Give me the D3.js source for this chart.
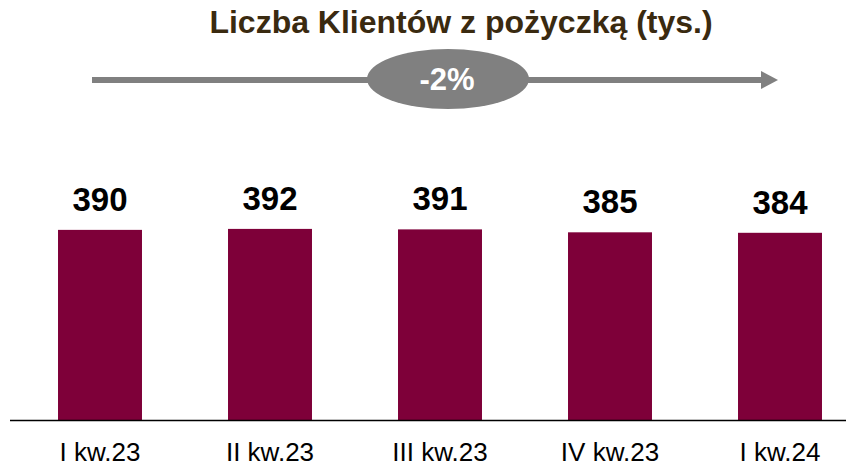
<!DOCTYPE html>
<html>
<head>
<meta charset="utf-8">
<script src="https://cdn.jsdelivr.net/npm/d3@7"></script>
<style>
  html, body { margin: 0; padding: 0; background: #fff; }
  #chart { width: 846px; height: 466px; }
  text { font-family: "Liberation Sans", Arial, sans-serif; }
</style>
</head>
<body>
<div id="chart"></div>
<script>
// Chart data
const quarters = ['I kw.23', 'II kw.23', 'III kw.23', 'IV kw.23', 'I kw.24'];
const clients = [390, 392, 391, 385, 384];
const changeLabel = '-2%';
const chartTitle = 'Liczba Klientów z pożyczką (tys.)';

function createVisualization(width, height) {
    d3.select('#chart').selectAll('*').remove();

    const data = quarters.map((q, i) => ({ quarter: q, value: clients[i] }));

    const svg = d3.select('#chart')
        .append('svg')
        .attr('width', width)
        .attr('height', height);

    // Scales
    const xScale = d3.scaleBand()
        .domain(quarters)
        .range([15, 865])
        .paddingInner(0.506)
        .paddingOuter(0.253);

    const yScale = d3.scaleLinear()
        .domain([0, 400])
        .range([420, 225]);

    // Title
    svg.append('text')
        .attr('x', 461)
        .attr('y', 33)
        .attr('text-anchor', 'middle')
        .style('font-size', '32px')
        .style('font-weight', 'bold')
        .style('fill', '#3a2a10')
        .text(chartTitle);

    // Trend arrow with the change bubble
    const arrowY = 80;
    svg.append('line')
        .attr('x1', 92)
        .attr('y1', arrowY)
        .attr('x2', 763)
        .attr('y2', arrowY)
        .style('stroke', '#808080')
        .style('stroke-width', 6);

    svg.append('path')
        .attr('d', `M761,${arrowY - 9}L778,${arrowY}L761,${arrowY + 9}Z`)
        .style('fill', '#808080');

    svg.append('ellipse')
        .attr('cx', 448)
        .attr('cy', 79)
        .attr('rx', 81)
        .attr('ry', 30)
        .style('fill', '#808080');

    svg.append('text')
        .attr('x', 447)
        .attr('y', 90)
        .attr('text-anchor', 'middle')
        .style('font-size', '31px')
        .style('font-weight', 'bold')
        .style('fill', '#fff')
        .text(changeLabel);

    // Bars
    svg.selectAll('.bar')
        .data(data)
        .join('rect')
        .attr('class', 'bar')
        .attr('x', d => xScale(d.quarter))
        .attr('y', d => yScale(d.value))
        .attr('width', xScale.bandwidth())
        .attr('height', d => yScale(0) - yScale(d.value))
        .style('fill', '#7e0039');

    // Value labels
    svg.selectAll('.value-label')
        .data(data)
        .join('text')
        .attr('class', 'value-label')
        .attr('x', d => xScale(d.quarter) + xScale.bandwidth() / 2)
        .attr('y', d => yScale(d.value) - 19)
        .attr('text-anchor', 'middle')
        .style('font-size', '33px')
        .style('font-weight', 'bold')
        .style('fill', '#000')
        .text(d => d.value);

    // Baseline
    svg.append('line')
        .attr('x1', 10)
        .attr('y1', yScale(0) + 0.5)
        .attr('x2', 846)
        .attr('y2', yScale(0) + 0.5)
        .style('stroke', '#000')
        .style('stroke-width', 1.5);

    // Category axis labels
    const xAxis = d3.axisBottom(xScale).tickSize(0).tickPadding(0);
    const axisG = svg.append('g')
        .attr('transform', `translate(0,${yScale(0)})`)
        .call(xAxis);
    axisG.select('.domain').remove();
    axisG.selectAll('text')
        .attr('dy', null)
        .attr('y', 41)
        .style('font-size', '26px')
        .style('font-family', '"Liberation Sans", Arial, sans-serif')
        .style('fill', '#000');
}

document.addEventListener('DOMContentLoaded', () => {
    createVisualization(846, 466);
});
</script>
</body>
</html>
